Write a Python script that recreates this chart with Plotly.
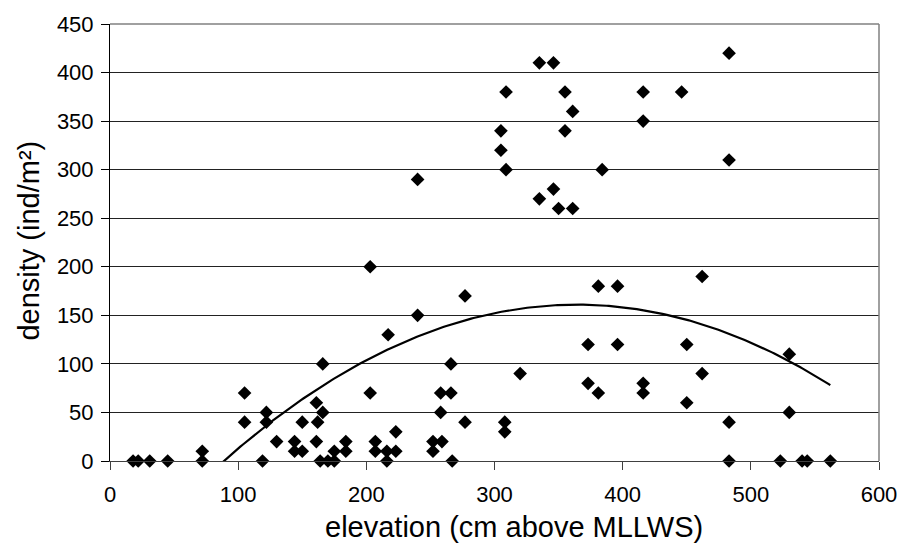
import numpy as np
import plotly.graph_objects as go

# elevation (cm above MLLWS)
elevation = [18, 22, 31, 45, 72, 72, 105, 105, 119, 122, 122, 130, 144, 144, 150, 150,
             161, 162, 161, 164, 166, 166, 170, 175, 175, 184, 184, 203, 203, 207, 207,
             216, 216, 217, 223, 223, 240, 240, 252, 252, 259, 258, 258, 266, 266, 267,
             277, 277, 305, 305, 309, 309, 308, 308, 320, 335, 335, 346, 346, 350, 355,
             355, 361, 361, 373, 373, 381, 381, 384, 396, 396, 416, 416, 416, 416, 446,
             450, 450, 462, 462, 483, 483, 483, 483, 523, 530, 530, 540, 544, 562]
# density (ind/m2)
density = [0, 0, 0, 0, 10, 0, 70, 40, 0, 50, 40, 20, 20, 10, 40, 10,
           60, 40, 20, 0, 50, 100, 0, 0, 10, 20, 10, 200, 70, 20, 10,
           10, 0, 130, 30, 10, 290, 150, 20, 10, 20, 50, 70, 70, 100, 0,
           170, 40, 340, 320, 380, 300, 40, 30, 90, 410, 270, 410, 280, 260, 380,
           340, 360, 260, 120, 80, 180, 70, 300, 180, 120, 380, 350, 80, 70, 380,
           120, 60, 190, 90, 420, 310, 40, 0, 0, 110, 50, 0, 0, 0]

x_ticks = [0, 100, 200, 300, 400, 500, 600]
y_ticks = [0, 50, 100, 150, 200, 250, 300, 350, 400, 450]

# 2nd-order polynomial trendline (vertex form)
trend_vertex_x = 364.3
trend_vertex_y = 161.0
trend_curv = -0.002121

xt = np.linspace(min(elevation), max(elevation), 300)
yt = trend_vertex_y + trend_curv * (xt - trend_vertex_x) ** 2

fig = go.Figure()
fig.add_trace(go.Scatter(x=xt, y=yt, mode="lines",
                         line=dict(color="black", width=2.2), hoverinfo="skip"))
fig.add_trace(go.Scatter(x=elevation, y=density, mode="markers",
                         marker=dict(symbol="diamond", size=10.5, color="#000000"),
                         cliponaxis=False))

font = "Liberation Sans, Arial, sans-serif"
fig.update_layout(
    width=909, height=547,
    margin=dict(l=110, r=22, t=17, b=86),
    paper_bgcolor="white", plot_bgcolor="white",
    showlegend=False,
    font=dict(family=font, color="black"),
    xaxis=dict(range=[0, 600], tickvals=x_ticks, ticks="outside", ticklen=8,
               tickcolor="#404040", showline=True, linecolor="#404040", linewidth=1,
               showgrid=False, zeroline=False, tickfont=dict(size=22),
               ticklabelstandoff=6),
    yaxis=dict(range=[0, 450], tickvals=y_ticks, ticks="outside", ticklen=8,
               tickcolor="black", showline=True, linecolor="black", linewidth=1,
               showgrid=True, gridcolor="#222222", gridwidth=1, zeroline=False,
               tickfont=dict(size=22), ticklabelstandoff=3),
    shapes=[
        dict(type="line", xref="paper", yref="paper", x0=0, x1=1, y0=1, y1=1,
             line=dict(color="#808080", width=1.5), layer="above"),
        dict(type="line", xref="paper", yref="paper", x0=1, x1=1, y0=0, y1=1,
             line=dict(color="#808080", width=1.5), layer="above"),
    ],
    annotations=[
        dict(text="elevation (cm above MLLWS)", xref="paper", yref="paper",
             x=0.525, y=-0.152, xanchor="center", yanchor="middle",
             showarrow=False, font=dict(size=29)),
        dict(text="density (ind/m²)", xref="paper", yref="paper",
             x=-0.1055, y=0.504, xanchor="center", yanchor="middle", textangle=-90,
             showarrow=False, font=dict(size=29)),
    ],
)

fig.write_html("out.html")
